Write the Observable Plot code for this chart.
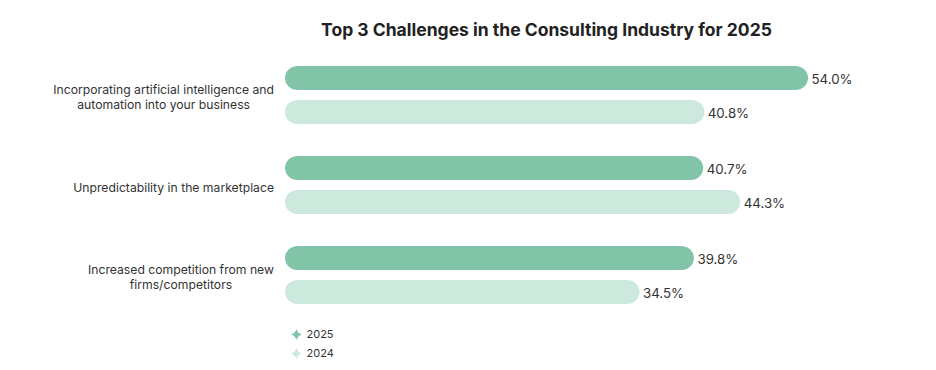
<!DOCTYPE html>
<html>
<head>
<meta charset="utf-8">
<script src="https://cdn.jsdelivr.net/npm/d3@7"></script>
<script src="https://cdn.jsdelivr.net/npm/@observablehq/plot@0.6"></script>
<style>
  html, body { margin: 0; padding: 0; background: #fff; }
  body { width: 936px; height: 370px; overflow: hidden; font-family: Inter, "Noto Sans", sans-serif; }
  #title { box-sizing: border-box; height: 50px; padding-top: 20px; margin-left: 285px; width: 523px;
           text-align: center; font-weight: 700; font-size: 17.5px; line-height: 20px; color: #222; white-space: nowrap; }
  svg { display: block; }
</style>
</head>
<body>
<div id="title">Top 3 Challenges in the Consulting Industry for 2025</div>
<div id="chart"></div>
<div id="legend"></div>
<script>
const title = "Top 3 Challenges in the Consulting Industry for 2025";
const categories = [
  "Incorporating artificial intelligence and automation into your business",
  "Unpredictability in the marketplace",
  "Increased competition from new firms/competitors"
];
const categoryLabels = [
  "Incorporating artificial intelligence and\nautomation into your business",
  "Unpredictability in the marketplace",
  "Increased competition from new\nfirms/competitors"
];
const series = ["2025", "2024"];
const values2025 = [54.0, 40.7, 39.8];
const values2024 = [40.8, 44.3, 34.5];
const seriesColors = ["#82c4a8", "#cde8dd"];

const rows = [];
categories.forEach((c, i) => {
  rows.push({category: c, series: "2025", value: values2025[i]});
  rows.push({category: c, series: "2024", value: values2024[i]});
});

const font = "Inter, 'Noto Sans', sans-serif";

const chart = Plot.plot({
  width: 936,
  height: 262,
  marginTop: 15,
  marginBottom: 5,
  marginLeft: 285,
  marginRight: 128,
  style: {fontFamily: font, background: "transparent"},
  x: {domain: [0, 50.9], clamp: true, axis: null},
  fy: {domain: categories, paddingInner: 0.34, paddingOuter: 0, axis: null},
  y: {domain: series, paddingInner: 0.286, paddingOuter: 0, axis: null},
  color: {domain: series, range: seriesColors},
  marks: [
    Plot.barX(rows, {fy: "category", y: "series", x: "value", fill: "series", rx: 12.5}),
    Plot.text(rows, {fy: "category", y: "series", x: "value", text: d => d.value.toFixed(1) + "%",
      dx: 3, dy: 1, textAnchor: "start", fontSize: 13.3, fill: "#333"}),
    Plot.text(categories, {fy: d => d, frameAnchor: "left", dx: -11, dy: 1,
      text: d => categoryLabels[categories.indexOf(d)],
      textAnchor: "middle", fontSize: 12.2, fill: "#333", lineHeight: 1.23, className: "catlabel"})
  ]
});
document.getElementById("chart").append(chart);

// right-align each label block while keeping its lines centred on each other
const rightEdge = 274;
const svgLeft = chart.getBoundingClientRect().left;
chart.querySelectorAll(".catlabel text").forEach(t => {
  const r = t.getBoundingClientRect();
  const shift = rightEdge - (r.right - svgLeft);
  const tr = t.getAttribute("transform") || "";
  t.setAttribute("transform", (tr + ` translate(${shift},0)`).trim());
});

const sparkle = {
  draw(ctx, size) {
    const r = Math.sqrt(size / Math.PI);
    const k = r * 0.22;
    ctx.moveTo(0, -r);
    ctx.quadraticCurveTo(k, -k, r, 0);
    ctx.quadraticCurveTo(k, k, 0, r);
    ctx.quadraticCurveTo(-k, k, -r, 0);
    ctx.quadraticCurveTo(-k, -k, 0, -r);
    ctx.closePath();
  }
};

const legend = Plot.plot({
  width: 936,
  height: 55,
  marginTop: 22,
  marginBottom: 14,
  marginLeft: 296,
  marginRight: 100,
  style: {fontFamily: font, background: "transparent"},
  x: {axis: null, domain: [0, 1]},
  y: {type: "point", domain: series, padding: 0, axis: null},
  color: {domain: series, range: seriesColors},
  marks: [
    Plot.dot(series, {y: d => d, frameAnchor: "left", r: 5.5, symbol: sparkle, fill: d => d, stroke: null}),
    Plot.text(series, {y: d => d, frameAnchor: "left", dx: 10, text: d => d, textAnchor: "start", fontSize: 11, fill: "#333"})
  ]
});
document.getElementById("legend").append(legend);
</script>
</body>
</html>
